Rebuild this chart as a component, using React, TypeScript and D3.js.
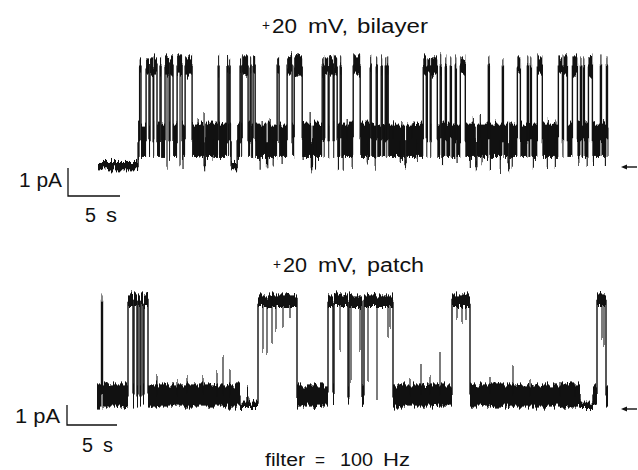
import React from 'react';
import * as d3 from 'd3';

const W = 638;
const H = 470;

// ---- +20 mV, bilayer ----
// Dwell sequence: [start time (s), conductance state index]
const bilayerDwells: [number, number][] = [
  [0, 0],
  [3.85, 1],
  [4.0, 2], [4.13, 1],
  [4.62, 2], [4.9, 1], [5.0, 2], [5.3, 1], [5.35, 2], [5.67, 1],
  [5.96, 2], [6.06, 1],
  [6.44, 2], [6.83, 1], [6.92, 2], [7.21, 1],
  [7.6, 2], [8.08, 1],
  [8.37, 2], [9.04, 1],
  [10.2, 0], [10.3, 1],
  [11.54, 2], [11.63, 1],
  [12.4, 2], [12.5, 1], [12.6, 2], [12.69, 1],
  [12.79, 0], [13.37, 1],
  [13.65, 2], [13.75, 1],
  [13.85, 2], [14.42, 1],
  [14.62, 2], [14.71, 1],
  [14.9, 2], [15.1, 1],
  [16.2, 0], [16.3, 1],
  [17.21, 2], [17.4, 1],
  [18.17, 2], [18.65, 1], [18.85, 2], [19.62, 1],
  [20.5, 0], [20.6, 1],
  [21.54, 2], [21.68, 1], [21.78, 2], [22.12, 1], [22.2, 2], [22.6, 1], [22.68, 2], [22.98, 1],
  [23.27, 2], [23.37, 1],
  [24.52, 2], [25.19, 1],
  [26.15, 2], [26.25, 1], [26.73, 2], [26.83, 1], [27.21, 2], [27.31, 1], [27.6, 2], [27.7, 1], [27.79, 2], [27.88, 1],
  [29.5, 0], [29.6, 1],
  [31.25, 2], [31.54, 1], [31.64, 2], [31.92, 1], [32.0, 2], [32.6, 1],
  [32.88, 2], [32.98, 1], [33.37, 2], [33.47, 1], [33.85, 2], [33.95, 1], [34.33, 2], [34.43, 1],
  [34.81, 2], [35.29, 1],
  [36.3, 0], [36.4, 1],
  [37.5, 2], [37.6, 1],
  [38.85, 2], [38.95, 1],
  [39.4, 0], [39.5, 1],
  [40.29, 2], [40.58, 1],
  [41.25, 2], [41.35, 1], [41.54, 2], [41.64, 1],
  [42.21, 2], [42.69, 1],
  [44.23, 2], [44.62, 1], [44.72, 2], [45.1, 1],
  [45.58, 2], [46.06, 1],
  [46.35, 2], [46.45, 1], [46.63, 2], [46.73, 1],
  [47.12, 2], [47.5, 1],
  [48.27, 2], [48.37, 1],
  [48.85, 2], [48.95, 1],
];
const bilayerEnd = 49.0;
// Noise envelope of each state (pA)
const bilayerStateLo = [-0.12, 0.36, 3.3];
const bilayerStateHi = [0.18, 1.55, 3.95];
// Brief unresolved events: [time (s), peak current (pA)]
const bilayerSpikes: [number, number][] = [
  [6.63, -0.03], [7.88, 0.03], [8.17, 0.0], [9.62, 1.68], [9.81, 0.32], [10.19, 1.93],
  [11.06, 0.25], [15.58, -0.03], [15.77, 1.75], [16.54, 1.75], [16.83, 0.05], [17.69, 0.0],
  [19.71, 0.25], [20.38, 1.96], [20.9, 0.05], [23.1, -0.03], [23.56, -0.1], [23.94, 1.79],
  [24.42, 0.0], [25.87, 0.05], [26.63, -0.03], [28.37, 1.6], [29.04, 0.18], [29.2, 1.68],
  [30.19, 1.6], [30.67, 0.14], [33.1, 0.07], [34.5, 0.07], [35.77, 0.04], [36.06, 1.75],
  [36.73, 1.86], [36.9, 0.1], [37.7, -0.18], [38.65, -0.18], [39.62, 1.6], [39.8, -0.03],
  [41.83, -0.1], [43.17, 0.0], [43.27, 1.75], [43.94, 0.0], [44.0, 1.7], [46.2, 0.07],
  [46.9, 1.68], [47.0, 0.0], [47.6, 0.07], [47.7, 1.6], [48.6, 1.57], [48.75, 0.14],
];

// ---- +20 mV, patch ----
const patchDwells: [number, number][] = [
  [0, 1],
  [0.45, 2], [0.55, 1],
  [3.1, 2], [3.6, 1], [3.7, 2], [4.0, 1], [4.1, 2], [4.3, 1], [4.4, 2], [4.6, 1], [4.7, 2],
  [5.1, 1],
  [14.3, 0], [15.0, 1], [15.1, 0],
  [16.1, 2],
  [20.0, 1],
  [23.1, 2], [23.6, 1], [23.7, 2], [25.1, 1], [25.2, 2], [26.5, 1], [26.7, 2],
  [29.6, 1],
  [35.5, 2], [37.3, 1],
  [48.3, 0], [49.6, 1], [50.0, 2], [50.9, 1],
];
const patchEnd = 51.1;
const patchStateLo = [0.0, 0.07, 5.05];
const patchStateHi = [0.32, 1.18, 5.68];
const patchSpikes: [number, number][] = [
  [6.0, 1.6], [8.0, 1.5], [9.0, 1.55], [10.6, 1.6], [12.0, 1.8], [12.6, 2.55], [13.3, 1.9],
  [16.6, 2.9], [17.0, 2.65], [17.5, 3.15], [17.9, 3.9], [18.6, 4.05], [19.3, 4.4],
  [24.3, 2.9], [25.4, 1.4], [26.3, 2.9], [27.1, 1.4], [28.0, 0.4], [29.1, 3.4], [29.3, 3.9],
  [31.3, 1.5], [32.4, 2.05], [33.3, 1.65], [34.3, 2.9],
  [36.0, 4.4], [36.5, 4.15], [36.9, 4.5],
  [39.3, 1.55], [41.6, 2.05], [43.3, 1.5], [46.3, 1.4], [47.8, 1.3],
  [50.5, 3.4], [50.7, 3.15], [50.95, 0.8],
];

type TraceProps = {
  dwells: [number, number][];
  end: number;
  lo: number[];
  hi: number[];
  spikes: [number, number][];
  x: d3.ScaleLinear<number, number>;
  y: d3.ScaleLinear<number, number>;
  filter: string;
};

function Trace({ dwells, end, lo, hi, spikes, x, y, filter }: TraceProps) {
  const mid = (s: number) => (lo[s] + hi[s]) / 2;
  const stateAt = (t: number) => {
    const idx = d3.bisector((d: [number, number]) => d[0]).right(dwells, t) - 1;
    return dwells[Math.max(0, idx)][1];
  };
  return (
    <g fill="#111" stroke="#111" filter={filter}>
      {dwells.map((d, i) => {
        const t1 = i + 1 < dwells.length ? dwells[i + 1][0] : end;
        const s = d[1];
        const x0 = x(d[0]);
        const w = Math.max(x(t1) - x0, 1);
        return (
          <rect key={'r' + i} x={x0} y={y(hi[s])} width={w} height={y(lo[s]) - y(hi[s])} stroke="none" />
        );
      })}
      {dwells.slice(1).map((d, i) => {
        const prev = dwells[i][1];
        return (
          <line key={'t' + i} x1={x(d[0])} x2={x(d[0])} y1={y(mid(prev))} y2={y(mid(d[1]))} strokeWidth={1.4} />
        );
      })}
      {spikes.map((sp, i) => {
        const s = stateAt(sp[0]);
        return (
          <line key={'s' + i} x1={x(sp[0])} x2={x(sp[0])} y1={y(mid(s))} y2={y(sp[1])} strokeWidth={1.1} />
        );
      })}
    </g>
  );
}

function ScaleBar({ x0, y0, xs, ys, secs, pa }: { x0: number; y0: number; xs: d3.ScaleLinear<number, number>; ys: d3.ScaleLinear<number, number>; secs: number; pa: number }) {
  const dx = xs(secs) - xs(0);
  const dy = ys(0) - ys(pa);
  return (
    <path d={`M${x0},${y0 - dy}V${y0}H${x0 + dx}`} fill="none" stroke="#111" strokeWidth={1.3} />
  );
}

function Arrow({ x, y }: { x: number; y: number }) {
  return (
    <g fill="#111" stroke="#111">
      <line x1={x + 4} x2={x + 16} y1={y} y2={y} strokeWidth={1.4} />
      <polygon points={`${x},${y} ${x + 6},${y - 2.6} ${x + 6},${y + 2.6}`} stroke="none" />
    </g>
  );
}

// One word of a label, set to a given width
function Word({ x, y, w, size, children }: { x: number; y: number; w: number; size: number; children: string }) {
  return (
    <text x={x} y={y} fontSize={size} textLength={w} lengthAdjust="spacingAndGlyphs" fill="#111">{children}</text>
  );
}

export default function App() {
  const xTop = d3.scaleLinear().domain([0, bilayerEnd]).range([98, 608]);
  const yTop = d3.scaleLinear().domain([0, 1]).range([167, 139]);
  const xBot = d3.scaleLinear().domain([0, patchEnd]).range([97, 608]);
  const yBot = d3.scaleLinear().domain([0, 1]).range([408, 388]);
  const font = "'Liberation Sans', Arial, Helvetica, sans-serif";

  return (
    <svg width={W} height={H} style={{ position: 'absolute', left: 0, top: 0, background: '#fff' }} fontFamily={font}>
      <defs>
        {/* recording noise: per-column vertical jitter of the trace envelope */}
        <filter id="noise" filterUnits="userSpaceOnUse" x={0} y={0} width={W} height={H} colorInterpolationFilters="sRGB">
          <feTurbulence type="fractalNoise" baseFrequency="0.55 0.045" numOctaves={2} seed={3} result="turb" />
          <feColorMatrix in="turb" type="matrix" values="0 0 0 0 0.5  0 1 0 0 0  0 0 0 0 0  0 0 0 0 1" result="map" />
          <feDisplacementMap in="SourceGraphic" in2="map" scale={13} xChannelSelector="R" yChannelSelector="G" />
        </filter>
      </defs>
      <rect width={W} height={H} fill="#fff" />

      <Word x={262} y={30} w={8} size={14}>+</Word>
      <Word x={272} y={33} w={25} size={20}>20</Word>
      <Word x={308} y={33} w={40} size={20}>mV,</Word>
      <Word x={357} y={33} w={71} size={20}>bilayer</Word>
      <Trace dwells={bilayerDwells} end={bilayerEnd} lo={bilayerStateLo} hi={bilayerStateHi} spikes={bilayerSpikes} x={xTop} y={yTop} filter="url(#noise)" />
      <Arrow x={621} y={yTop(0)} />
      <ScaleBar x0={68} y0={196} xs={xTop} ys={yTop} secs={5} pa={1} />
      <Word x={19} y={187} w={43} size={20}>1 pA</Word>
      <Word x={85} y={222} w={11} size={20}>5</Word>
      <Word x={106} y={222} w={11} size={20}>s</Word>

      <Word x={273} y={269} w={8} size={14}>+</Word>
      <Word x={283} y={272} w={24} size={20}>20</Word>
      <Word x={318} y={272} w={39} size={20}>mV,</Word>
      <Word x={367} y={272} w={57} size={20}>patch</Word>
      <Trace dwells={patchDwells} end={patchEnd} lo={patchStateLo} hi={patchStateHi} spikes={patchSpikes} x={xBot} y={yBot} filter="url(#noise)" />
      <Arrow x={621} y={yBot(0) + 1} />
      <ScaleBar x0={67} y0={425} xs={xBot} ys={yBot} secs={5} pa={1} />
      <Word x={15} y={423} w={45} size={20}>1 pA</Word>
      <Word x={82} y={452} w={11} size={20}>5</Word>
      <Word x={103} y={452} w={10} size={20}>s</Word>

      <Word x={265} y={466} w={40} size={18}>filter</Word>
      <Word x={315} y={466} w={10} size={18}>=</Word>
      <Word x={340} y={466} w={33} size={18}>100</Word>
      <Word x={383} y={466} w={27} size={18}>Hz</Word>
    </svg>
  );
}
